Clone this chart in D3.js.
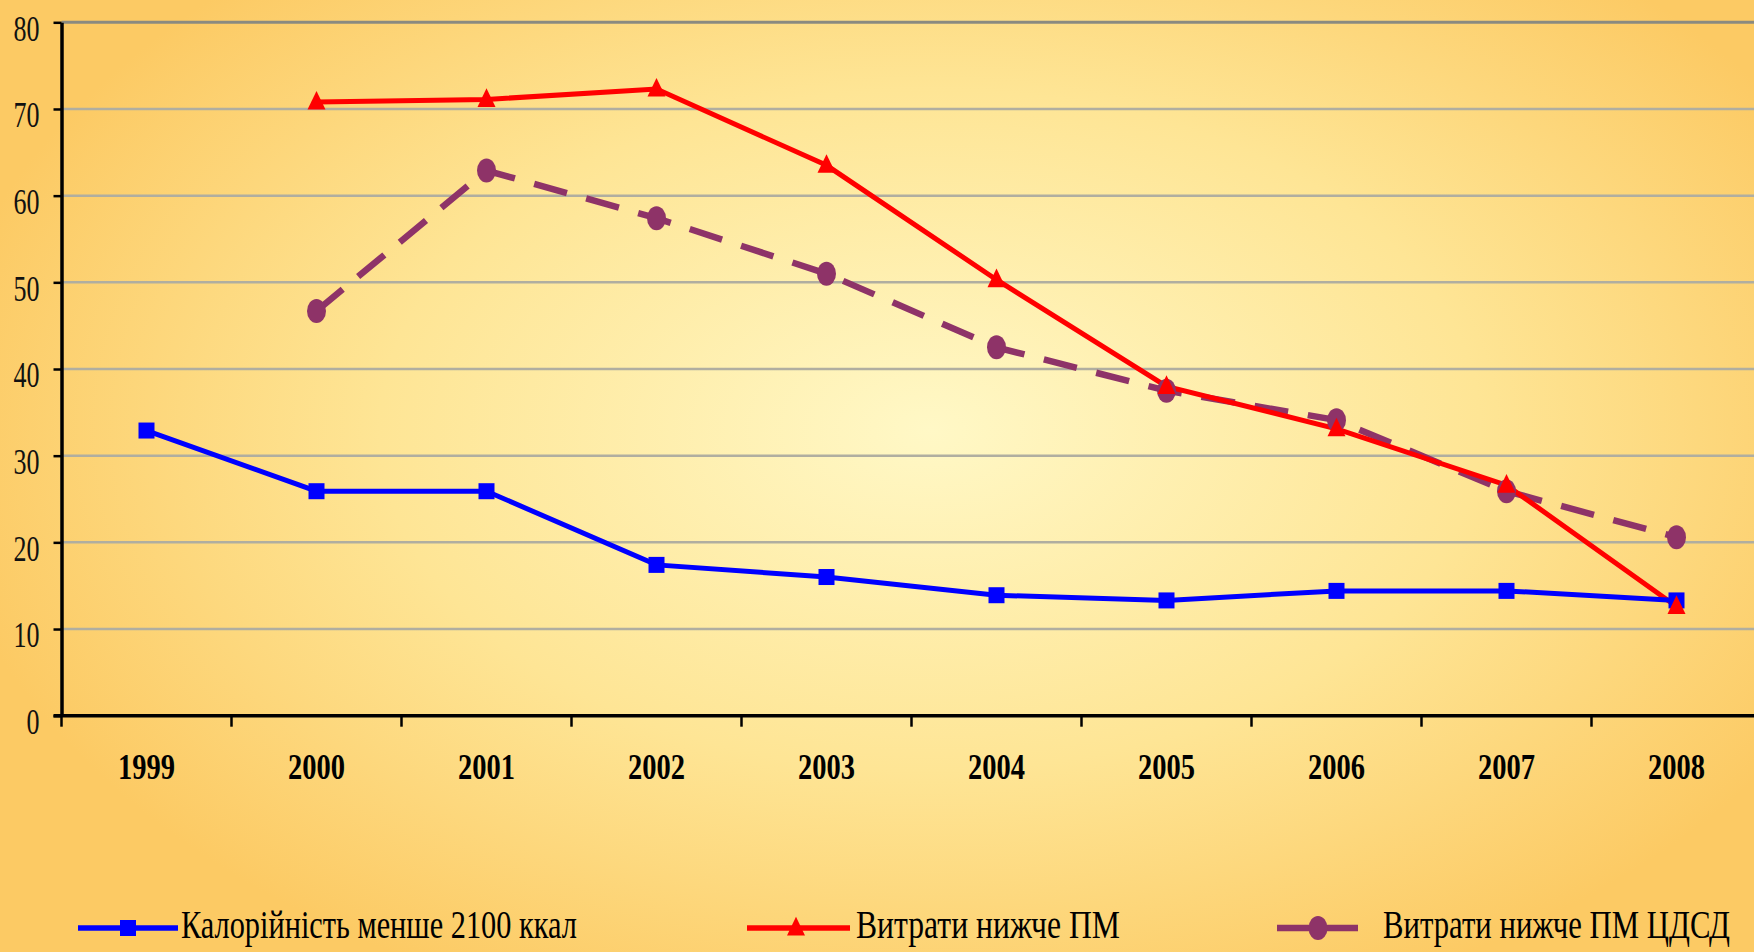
<!DOCTYPE html>
<html lang="uk">
  <head>
    <meta charset="UTF-8" />
    <title>Калорійність та витрати</title>
    <script src="https://d3js.org/d3.v7.min.js"></script>
    <style>
      body { margin: 0; overflow: hidden; }
      text { font-family: "Liberation Serif", "Times New Roman", serif; }
    </style>
  </head>
  <body>
    <div id="chart"></div>
    <script>
      // data
      const years = ["1999", "2000", "2001", "2002", "2003", "2004", "2005", "2006", "2007", "2008"];
      const calories = [32.9, 25.9, 25.9, 17.4, 16.0, 13.9, 13.3, 14.4, 14.4, 13.3];
      const belowPM = [null, 70.8, 71.1, 72.3, 63.5, 50.3, 38.0, 33.1, 26.6, 12.6];
      const belowPMcdsd = [null, 46.7, 62.9, 57.4, 51.0, 42.5, 37.5, 34.1, 25.9, 20.6];
      const yTicks = [0, 10, 20, 30, 40, 50, 60, 70, 80];
      const seriesNames = ["Калорійність менше 2100 ккал", "Витрати нижче ПМ", "Витрати нижче ПМ ЦДСД"];

      const W = 1754, H = 952;
      const plotLeft = 61.5, plotTop = 22.3, plotBottom = 715.7;

      const svg = d3.select("#chart").append("svg")
        .attr("width", W).attr("height", H);

      // background: warm radial glow
      const grad = svg.append("defs").append("radialGradient")
        .attr("id", "bg").attr("gradientUnits", "userSpaceOnUse")
        .attr("cx", 930).attr("cy", 430).attr("r", 1000)
        .attr("gradientTransform", "translate(930,430) scale(1,0.62) translate(-930,-430)");
      grad.append("stop").attr("offset", "0").attr("stop-color", "#fff8c6");
      grad.append("stop").attr("offset", "0.55").attr("stop-color", "#fee595");
      grad.append("stop").attr("offset", "1").attr("stop-color", "#fcca64");
      svg.append("rect").attr("width", W).attr("height", H).attr("fill", "url(#bg)");

      // scales
      const x = d3.scaleBand().domain(years).range([plotLeft, plotLeft + 1700]);
      const cx = d => x(d) + x.bandwidth() / 2;
      const y = d3.scaleLinear().domain([0, 80]).range([plotBottom, plotTop]);

      // gridlines
      svg.append("g").selectAll("line")
        .data(yTicks.filter(t => t > 0))
        .join("line")
        .attr("x1", plotLeft).attr("x2", W)
        .attr("y1", d => y(d)).attr("y2", d => y(d))
        .attr("stroke", d => d === 80 ? "#8a8a80" : "#b0aea0")
        .attr("stroke-width", d => d === 80 ? 3 : 2.5);

      // y axis
      const yAxis = svg.append("g")
        .attr("transform", `translate(${plotLeft},0)`)
        .call(d3.axisLeft(y).tickValues(yTicks).tickSize(8).tickSizeOuter(0).tickPadding(22));
      yAxis.select(".domain").attr("stroke", "#000").attr("stroke-width", 3.5);
      yAxis.selectAll(".tick line").attr("stroke", "#000").attr("stroke-width", 2.5);
      yAxis.selectAll(".tick text")
        .attr("x", -22)
        .attr("dy", "0.62em")
        .attr("y", -4)
        .attr("fill", "#111")
        .style("font-size", "35px")
        .attr("textLength", d => String(d).length * 13)
        .attr("lengthAdjust", "spacingAndGlyphs");

      // x axis
      const xAxis = svg.append("g")
        .attr("transform", `translate(0,${plotBottom})`)
        .call(d3.axisBottom(x).tickSize(0).tickSizeOuter(0).tickPadding(0));
      xAxis.select(".domain").remove();
      xAxis.append("line")
        .attr("x1", plotLeft - 8).attr("x2", W)
        .attr("stroke", "#000").attr("stroke-width", 3.5);
      xAxis.selectAll(".tick text")
        .attr("y", 63).attr("dy", 0)
        .attr("fill", "#000")
        .style("font-size", "35px").style("font-weight", "bold")
        .attr("textLength", 57)
        .attr("lengthAdjust", "spacingAndGlyphs");
      xAxis.append("g").selectAll("line")
        .data(years)
        .join("line")
        .attr("x1", d => x(d)).attr("x2", d => x(d))
        .attr("y1", 0).attr("y2", 11)
        .attr("stroke", "#000").attr("stroke-width", 2.5);

      // lines
      const pts = vals => years.map((yr, i) => [yr, vals[i]]).filter(p => p[1] != null);
      const line = d3.line().x(p => cx(p[0])).y(p => y(p[1]));

      const triangle = s => `M0,${-s * 0.62}L${s / 2},${s * 0.42}L${-s / 2},${s * 0.42}Z`;

      // purple dashed
      svg.append("path").datum(pts(belowPMcdsd))
        .attr("d", line).attr("fill", "none")
        .attr("stroke", "#8e3368").attr("stroke-width", 6.5)
        .attr("stroke-dasharray", "34 20");
      // red
      svg.append("path").datum(pts(belowPM))
        .attr("d", line).attr("fill", "none")
        .attr("stroke", "#ff0000").attr("stroke-width", 5);
      // blue
      svg.append("path").datum(pts(calories))
        .attr("d", line).attr("fill", "none")
        .attr("stroke", "#0000ff").attr("stroke-width", 5);

      svg.append("g").selectAll("ellipse")
        .data(pts(belowPMcdsd)).join("ellipse")
        .attr("cx", p => cx(p[0])).attr("cy", p => y(p[1]))
        .attr("rx", 9.5).attr("ry", 12).attr("fill", "#8e3368");
      svg.append("g").selectAll("rect")
        .data(pts(calories)).join("rect")
        .attr("x", p => cx(p[0]) - 8).attr("y", p => y(p[1]) - 8)
        .attr("width", 16).attr("height", 16).attr("fill", "#0000ff");
      svg.append("g").selectAll("path")
        .data(pts(belowPM)).join("path")
        .attr("transform", p => `translate(${cx(p[0])},${y(p[1])})`)
        .attr("d", triangle(18)).attr("fill", "#ff0000");

      // legend
      const legY = 928;
      const leg = svg.append("g");
      leg.append("line").attr("x1", 78).attr("x2", 178).attr("y1", legY).attr("y2", legY)
        .attr("stroke", "#0000ff").attr("stroke-width", 5.5);
      leg.append("rect").attr("x", 120).attr("y", legY - 8).attr("width", 16).attr("height", 16)
        .attr("fill", "#0000ff");
      leg.append("line").attr("x1", 747).attr("x2", 850).attr("y1", legY).attr("y2", legY)
        .attr("stroke", "#ff0000").attr("stroke-width", 5.5);
      leg.append("path").attr("transform", `translate(796,${legY})`).attr("d", triangle(18))
        .attr("fill", "#ff0000");
      leg.append("line").attr("x1", 1277).attr("x2", 1358).attr("y1", legY).attr("y2", legY)
        .attr("stroke", "#8e3368").attr("stroke-width", 6.5).attr("stroke-dasharray", "32 17");
      leg.append("ellipse").attr("cx", 1318).attr("cy", legY).attr("rx", 9.5).attr("ry", 12)
        .attr("fill", "#8e3368");

      // legend labels: condensed horizontally with a scale transform
      const legText = [
        { x: 181, w: 396 },
        { x: 856, w: 264 },
        { x: 1383, w: 347 }
      ];
      leg.selectAll("text.lab")
        .data(seriesNames).join("text")
        .attr("class", "lab")
        .attr("fill", "#000")
        .style("font-size", "40px")
        .text(d => d)
        .attr("transform", function (d, i) {
          const natural = this.getComputedTextLength();
          const sx = legText[i].w / natural;
          return `translate(${legText[i].x},938) scale(${sx},1)`;
        });
    </script>
  </body>
</html>
